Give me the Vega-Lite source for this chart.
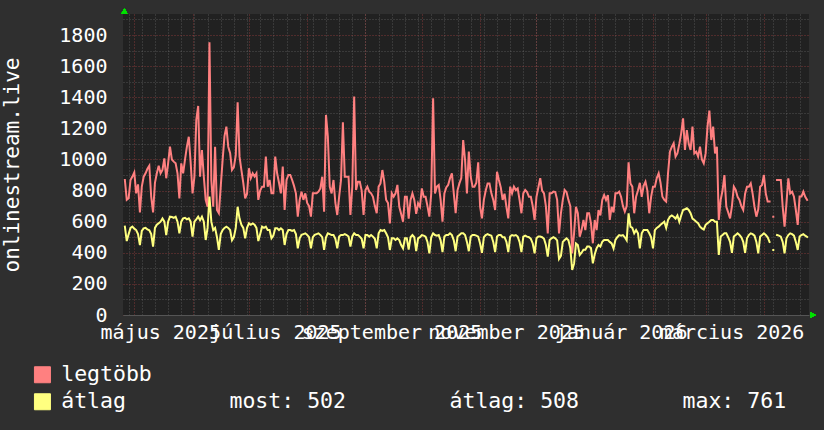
{
"$schema": "https://vega.github.io/schema/vega-lite/v6.json",
"width": 686, "height": 301,
"autosize": {"type": "none"},
"padding": {"left": 123, "top": 14, "right": 15, "bottom": 115},
"background": "#2f2f2f",
"config": {"view": {"fill": "#212121", "stroke": null}, "font": "DejaVu Sans Mono"},
"data": {"values": [
{"date":"2025-04-26","legtöbb":868,"átlag":568},{"date":"2025-04-27","legtöbb":740,"átlag":475},{"date":"2025-04-28","legtöbb":750,"átlag":520},{"date":"2025-04-29","legtöbb":868,"átlag":560},{"date":"2025-04-30","legtöbb":890,"átlag":568},
{"date":"2025-05-01","legtöbb":917,"átlag":555},{"date":"2025-05-02","legtöbb":782,"átlag":546},{"date":"2025-05-03","legtöbb":840,"átlag":520},{"date":"2025-05-04","legtöbb":660,"átlag":450},{"date":"2025-05-05","legtöbb":825,"átlag":540},{"date":"2025-05-06","legtöbb":889,"átlag":557},{"date":"2025-05-07","legtöbb":911,"átlag":560},{"date":"2025-05-08","legtöbb":940,"átlag":550},{"date":"2025-05-09","legtöbb":960,"átlag":545},{"date":"2025-05-10","legtöbb":760,"átlag":520},{"date":"2025-05-11","legtöbb":660,"átlag":440},{"date":"2025-05-12","legtöbb":850,"átlag":560},{"date":"2025-05-13","legtöbb":911,"átlag":580},{"date":"2025-05-14","legtöbb":960,"átlag":590},{"date":"2025-05-15","legtöbb":911,"átlag":600},{"date":"2025-05-16","legtöbb":932,"átlag":621},{"date":"2025-05-17","legtöbb":1007,"átlag":600},{"date":"2025-05-18","legtöbb":879,"átlag":514},{"date":"2025-05-19","legtöbb":975,"átlag":600},{"date":"2025-05-20","legtöbb":1082,"átlag":632},{"date":"2025-05-21","legtöbb":1000,"átlag":630},{"date":"2025-05-22","legtöbb":986,"átlag":625},{"date":"2025-05-23","legtöbb":975,"átlag":632},{"date":"2025-05-24","legtöbb":911,"átlag":600},{"date":"2025-05-25","legtöbb":750,"átlag":525},{"date":"2025-05-26","legtöbb":975,"átlag":600},{"date":"2025-05-27","legtöbb":911,"átlag":621},{"date":"2025-05-28","legtöbb":1000,"átlag":625},{"date":"2025-05-29","legtöbb":1082,"átlag":615},{"date":"2025-05-30","legtöbb":1146,"átlag":621},{"date":"2025-05-31","legtöbb":980,"átlag":600},
{"date":"2025-06-01","legtöbb":782,"átlag":504},{"date":"2025-06-02","legtöbb":889,"átlag":600},{"date":"2025-06-03","legtöbb":1254,"átlag":615},{"date":"2025-06-04","legtöbb":1344,"átlag":632},{"date":"2025-06-05","legtöbb":889,"átlag":610},{"date":"2025-06-06","legtöbb":1061,"átlag":632},{"date":"2025-06-07","legtöbb":889,"átlag":600},{"date":"2025-06-08","legtöbb":740,"átlag":482},{"date":"2025-06-09","legtöbb":696,"átlag":560},{"date":"2025-06-10","legtöbb":1753,"átlag":761},{"date":"2025-06-11","legtöbb":868,"átlag":600},{"date":"2025-06-12","legtöbb":696,"átlag":546},{"date":"2025-06-13","legtöbb":1082,"átlag":560},{"date":"2025-06-14","legtöbb":675,"átlag":500},{"date":"2025-06-15","legtöbb":654,"átlag":418},{"date":"2025-06-16","legtöbb":825,"átlag":520},{"date":"2025-06-17","legtöbb":996,"átlag":546},{"date":"2025-06-18","legtöbb":1150,"átlag":560},{"date":"2025-06-19","legtöbb":1211,"átlag":568},{"date":"2025-06-20","legtöbb":1082,"átlag":560},{"date":"2025-06-21","legtöbb":1040,"átlag":546},{"date":"2025-06-22","legtöbb":932,"átlag":480},{"date":"2025-06-23","legtöbb":950,"átlag":500},{"date":"2025-06-24","legtöbb":1028,"átlag":560},{"date":"2025-06-25","legtöbb":1367,"átlag":696},{"date":"2025-06-26","legtöbb":1018,"átlag":620},{"date":"2025-06-27","legtöbb":932,"átlag":580},{"date":"2025-06-28","legtöbb":850,"átlag":560},{"date":"2025-06-29","legtöbb":750,"átlag":493},{"date":"2025-06-30","legtöbb":780,"átlag":560},
{"date":"2025-07-01","legtöbb":943,"átlag":589},{"date":"2025-07-02","legtöbb":880,"átlag":580},{"date":"2025-07-03","legtöbb":911,"átlag":589},{"date":"2025-07-04","legtöbb":890,"átlag":580},{"date":"2025-07-05","legtöbb":911,"átlag":560},{"date":"2025-07-06","legtöbb":740,"átlag":475},{"date":"2025-07-07","legtöbb":800,"átlag":520},{"date":"2025-07-08","legtöbb":825,"átlag":568},{"date":"2025-07-09","legtöbb":825,"átlag":560},{"date":"2025-07-10","legtöbb":1018,"átlag":568},{"date":"2025-07-11","legtöbb":825,"átlag":546},{"date":"2025-07-12","legtöbb":868,"átlag":546},{"date":"2025-07-13","legtöbb":782,"átlag":493},{"date":"2025-07-14","legtöbb":782,"átlag":510},{"date":"2025-07-15","legtöbb":1018,"átlag":557},{"date":"2025-07-16","legtöbb":911,"átlag":557},{"date":"2025-07-17","legtöbb":850,"átlag":546},{"date":"2025-07-18","legtöbb":782,"átlag":557},{"date":"2025-07-19","legtöbb":954,"átlag":546},{"date":"2025-07-20","legtöbb":675,"átlag":450},{"date":"2025-07-21","legtöbb":868,"átlag":520},{"date":"2025-07-22","legtöbb":900,"átlag":546},{"date":"2025-07-23","legtöbb":900,"átlag":546},{"date":"2025-07-24","legtöbb":868,"átlag":540},{"date":"2025-07-25","legtöbb":830,"átlag":546},{"date":"2025-07-26","legtöbb":782,"átlag":520},{"date":"2025-07-27","legtöbb":632,"átlag":428},{"date":"2025-07-28","legtöbb":740,"átlag":493},{"date":"2025-07-29","legtöbb":793,"átlag":515},{"date":"2025-07-30","legtöbb":740,"átlag":520},{"date":"2025-07-31","legtöbb":782,"átlag":525},
{"date":"2025-08-01","legtöbb":720,"átlag":515},{"date":"2025-08-02","legtöbb":700,"átlag":500},{"date":"2025-08-03","legtöbb":632,"átlag":428},{"date":"2025-08-04","legtöbb":782,"átlag":500},{"date":"2025-08-05","legtöbb":782,"átlag":515},{"date":"2025-08-06","legtöbb":782,"átlag":520},{"date":"2025-08-07","legtöbb":793,"átlag":525},{"date":"2025-08-08","legtöbb":814,"átlag":515},{"date":"2025-08-09","legtöbb":889,"átlag":500},{"date":"2025-08-10","legtöbb":664,"átlag":418},{"date":"2025-08-11","legtöbb":1286,"átlag":500},{"date":"2025-08-12","legtöbb":1146,"átlag":525},{"date":"2025-08-13","legtöbb":825,"átlag":520},{"date":"2025-08-14","legtöbb":782,"átlag":514},{"date":"2025-08-15","legtöbb":868,"átlag":514},{"date":"2025-08-16","legtöbb":720,"átlag":490},{"date":"2025-08-17","legtöbb":643,"átlag":428},{"date":"2025-08-18","legtöbb":760,"átlag":505},{"date":"2025-08-19","legtöbb":868,"átlag":514},{"date":"2025-08-20","legtöbb":1239,"átlag":514},{"date":"2025-08-21","legtöbb":889,"átlag":520},{"date":"2025-08-22","legtöbb":889,"átlag":514},{"date":"2025-08-23","legtöbb":889,"átlag":505},{"date":"2025-08-24","legtöbb":643,"átlag":440},{"date":"2025-08-25","legtöbb":825,"átlag":505},{"date":"2025-08-26","legtöbb":1404,"átlag":525},{"date":"2025-08-27","legtöbb":804,"átlag":514},{"date":"2025-08-28","legtöbb":857,"átlag":514},{"date":"2025-08-29","legtöbb":857,"átlag":504},{"date":"2025-08-30","legtöbb":800,"átlag":490},{"date":"2025-08-31","legtöbb":643,"átlag":428},
{"date":"2025-09-01","legtöbb":804,"átlag":514},{"date":"2025-09-02","legtöbb":825,"átlag":514},{"date":"2025-09-03","legtöbb":793,"átlag":504},{"date":"2025-09-04","legtöbb":782,"átlag":514},{"date":"2025-09-05","legtöbb":760,"átlag":504},{"date":"2025-09-06","legtöbb":700,"átlag":490},{"date":"2025-09-07","legtöbb":654,"átlag":428},{"date":"2025-09-08","legtöbb":825,"átlag":525},{"date":"2025-09-09","legtöbb":846,"átlag":546},{"date":"2025-09-10","legtöbb":932,"átlag":540},{"date":"2025-09-11","legtöbb":857,"átlag":546},{"date":"2025-09-12","legtöbb":740,"átlag":525},{"date":"2025-09-13","legtöbb":720,"átlag":500},{"date":"2025-09-14","legtöbb":589,"átlag":418},{"date":"2025-09-15","legtöbb":782,"átlag":493},{"date":"2025-09-16","legtöbb":760,"átlag":493},{"date":"2025-09-17","legtöbb":782,"átlag":482},{"date":"2025-09-18","legtöbb":836,"átlag":493},{"date":"2025-09-19","legtöbb":696,"átlag":482},{"date":"2025-09-20","legtöbb":650,"átlag":450},{"date":"2025-09-21","legtöbb":600,"átlag":428},{"date":"2025-09-22","legtöbb":760,"átlag":493},{"date":"2025-09-23","legtöbb":760,"átlag":493},{"date":"2025-09-24","legtöbb":620,"átlag":420},{"date":"2025-09-25","legtöbb":740,"átlag":500},{"date":"2025-09-26","legtöbb":782,"átlag":514},{"date":"2025-09-27","legtöbb":740,"átlag":500},{"date":"2025-09-28","legtöbb":650,"átlag":410},{"date":"2025-09-29","legtöbb":718,"átlag":493},{"date":"2025-09-30","legtöbb":696,"átlag":500},
{"date":"2025-10-01","legtöbb":814,"átlag":514},{"date":"2025-10-02","legtöbb":760,"átlag":510},{"date":"2025-10-03","legtöbb":760,"átlag":504},{"date":"2025-10-04","legtöbb":700,"átlag":470},{"date":"2025-10-05","legtöbb":632,"átlag":396},{"date":"2025-10-06","legtöbb":782,"átlag":500},{"date":"2025-10-07","legtöbb":1393,"átlag":525},{"date":"2025-10-08","legtöbb":782,"átlag":514},{"date":"2025-10-09","legtöbb":825,"átlag":510},{"date":"2025-10-10","legtöbb":836,"átlag":514},{"date":"2025-10-11","legtöbb":740,"átlag":480},{"date":"2025-10-12","legtöbb":600,"átlag":404},{"date":"2025-10-13","legtöbb":782,"átlag":504},{"date":"2025-10-14","legtöbb":820,"átlag":514},{"date":"2025-10-15","legtöbb":836,"átlag":514},{"date":"2025-10-16","legtöbb":880,"átlag":525},{"date":"2025-10-17","legtöbb":911,"átlag":514},{"date":"2025-10-18","legtöbb":782,"átlag":480},{"date":"2025-10-19","legtöbb":654,"átlag":410},{"date":"2025-10-20","legtöbb":803,"átlag":504},{"date":"2025-10-21","legtöbb":846,"átlag":514},{"date":"2025-10-22","legtöbb":880,"átlag":525},{"date":"2025-10-23","legtöbb":1125,"átlag":525},{"date":"2025-10-24","legtöbb":996,"átlag":514},{"date":"2025-10-25","legtöbb":782,"átlag":470},{"date":"2025-10-26","legtöbb":1050,"átlag":410},{"date":"2025-10-27","legtöbb":889,"átlag":504},{"date":"2025-10-28","legtöbb":825,"átlag":514},{"date":"2025-10-29","legtöbb":825,"átlag":514},{"date":"2025-10-30","legtöbb":850,"átlag":510},{"date":"2025-10-31","legtöbb":981,"átlag":504},
{"date":"2025-11-01","legtöbb":696,"átlag":460},{"date":"2025-11-02","legtöbb":621,"átlag":400},{"date":"2025-11-03","legtöbb":740,"átlag":500},{"date":"2025-11-04","legtöbb":800,"átlag":514},{"date":"2025-11-05","legtöbb":846,"átlag":520},{"date":"2025-11-06","legtöbb":846,"átlag":514},{"date":"2025-11-07","legtöbb":782,"átlag":510},{"date":"2025-11-08","legtöbb":740,"átlag":470},{"date":"2025-11-09","legtöbb":675,"átlag":404},{"date":"2025-11-10","legtöbb":921,"átlag":504},{"date":"2025-11-11","legtöbb":868,"átlag":514},{"date":"2025-11-12","legtöbb":820,"átlag":514},{"date":"2025-11-13","legtöbb":740,"átlag":500},{"date":"2025-11-14","legtöbb":780,"átlag":500},{"date":"2025-11-15","legtöbb":696,"átlag":470},{"date":"2025-11-16","legtöbb":621,"átlag":404},{"date":"2025-11-17","legtöbb":825,"átlag":504},{"date":"2025-11-18","legtöbb":782,"átlag":514},{"date":"2025-11-19","legtöbb":825,"átlag":510},{"date":"2025-11-20","legtöbb":803,"átlag":514},{"date":"2025-11-21","legtöbb":814,"átlag":504},{"date":"2025-11-22","legtöbb":740,"átlag":470},{"date":"2025-11-23","legtöbb":654,"átlag":404},{"date":"2025-11-24","legtöbb":782,"átlag":504},{"date":"2025-11-25","legtöbb":804,"átlag":510},{"date":"2025-11-26","legtöbb":790,"átlag":504},{"date":"2025-11-27","legtöbb":760,"átlag":500},{"date":"2025-11-28","legtöbb":760,"átlag":490},{"date":"2025-11-29","legtöbb":700,"átlag":460},{"date":"2025-11-30","legtöbb":611,"átlag":396},
{"date":"2025-12-01","legtöbb":760,"átlag":493},{"date":"2025-12-02","legtöbb":820,"átlag":504},{"date":"2025-12-03","legtöbb":879,"átlag":504},{"date":"2025-12-04","legtöbb":800,"átlag":500},{"date":"2025-12-05","legtöbb":782,"átlag":490},{"date":"2025-12-06","legtöbb":700,"átlag":450},{"date":"2025-12-07","legtöbb":525,"átlag":375},{"date":"2025-12-08","legtöbb":782,"átlag":482},{"date":"2025-12-09","legtöbb":782,"átlag":493},{"date":"2025-12-10","legtöbb":793,"átlag":500},{"date":"2025-12-11","legtöbb":790,"átlag":493},{"date":"2025-12-12","legtöbb":740,"átlag":480},{"date":"2025-12-13","legtöbb":525,"átlag":360},{"date":"2025-12-14","legtöbb":654,"átlag":380},{"date":"2025-12-15","legtöbb":740,"átlag":470},{"date":"2025-12-16","legtöbb":804,"átlag":482},{"date":"2025-12-17","legtöbb":790,"átlag":493},{"date":"2025-12-18","legtöbb":740,"átlag":480},{"date":"2025-12-19","legtöbb":700,"átlag":430},{"date":"2025-12-20","legtöbb":396,"átlag":290},{"date":"2025-12-21","legtöbb":525,"átlag":330},{"date":"2025-12-22","legtöbb":696,"átlag":460},{"date":"2025-12-23","legtöbb":654,"átlag":450},{"date":"2025-12-24","legtöbb":504,"átlag":386},{"date":"2025-12-25","legtöbb":546,"átlag":400},{"date":"2025-12-26","legtöbb":611,"átlag":420},{"date":"2025-12-27","legtöbb":546,"átlag":420},{"date":"2025-12-28","legtöbb":654,"átlag":440},{"date":"2025-12-29","legtöbb":654,"átlag":440},{"date":"2025-12-30","legtöbb":589,"átlag":430},{"date":"2025-12-31","legtöbb":461,"átlag":332},
{"date":"2026-01-01","legtöbb":611,"átlag":390},{"date":"2026-01-02","legtöbb":546,"átlag":430},{"date":"2026-01-03","legtöbb":675,"átlag":450},{"date":"2026-01-04","legtöbb":640,"átlag":440},{"date":"2026-01-05","legtöbb":740,"átlag":471},{"date":"2026-01-06","legtöbb":771,"átlag":482},{"date":"2026-01-07","legtöbb":740,"átlag":482},{"date":"2026-01-08","legtöbb":771,"átlag":482},{"date":"2026-01-09","legtöbb":611,"átlag":470},{"date":"2026-01-10","legtöbb":696,"átlag":460},{"date":"2026-01-11","legtöbb":660,"átlag":428},{"date":"2026-01-12","legtöbb":782,"átlag":482},{"date":"2026-01-13","legtöbb":782,"átlag":500},{"date":"2026-01-14","legtöbb":793,"átlag":514},{"date":"2026-01-15","legtöbb":760,"átlag":510},{"date":"2026-01-16","legtöbb":700,"átlag":514},{"date":"2026-01-17","legtöbb":664,"átlag":500},{"date":"2026-01-18","legtöbb":700,"átlag":480},{"date":"2026-01-19","legtöbb":981,"átlag":654},{"date":"2026-01-20","legtöbb":846,"átlag":568},{"date":"2026-01-21","legtöbb":825,"átlag":560},{"date":"2026-01-22","legtöbb":654,"átlag":525},{"date":"2026-01-23","legtöbb":760,"átlag":546},{"date":"2026-01-24","legtöbb":800,"átlag":525},{"date":"2026-01-25","legtöbb":850,"átlag":428},{"date":"2026-01-26","legtöbb":760,"átlag":525},{"date":"2026-01-27","legtöbb":830,"átlag":546},{"date":"2026-01-28","legtöbb":857,"átlag":546},{"date":"2026-01-29","legtöbb":800,"átlag":546},{"date":"2026-01-30","legtöbb":654,"átlag":525},{"date":"2026-01-31","legtöbb":760,"átlag":500},
{"date":"2026-02-01","legtöbb":825,"átlag":428},{"date":"2026-02-02","legtöbb":825,"átlag":546},{"date":"2026-02-03","legtöbb":880,"átlag":560},{"date":"2026-02-04","legtöbb":911,"átlag":568},{"date":"2026-02-05","legtöbb":850,"átlag":580},{"date":"2026-02-06","legtöbb":760,"átlag":590},{"date":"2026-02-07","legtöbb":740,"átlag":600},{"date":"2026-02-08","legtöbb":729,"átlag":560},{"date":"2026-02-09","legtöbb":911,"átlag":611},{"date":"2026-02-10","legtöbb":1050,"átlag":632},{"date":"2026-02-11","legtöbb":1080,"átlag":640},{"date":"2026-02-12","legtöbb":1104,"átlag":632},{"date":"2026-02-13","legtöbb":1018,"átlag":620},{"date":"2026-02-14","legtöbb":1040,"átlag":640},{"date":"2026-02-15","legtöbb":1100,"átlag":600},{"date":"2026-02-16","legtöbb":1168,"átlag":640},{"date":"2026-02-17","legtöbb":1264,"átlag":675},{"date":"2026-02-18","legtöbb":1061,"átlag":680},{"date":"2026-02-19","legtöbb":1189,"átlag":686},{"date":"2026-02-20","legtöbb":1100,"átlag":675},{"date":"2026-02-21","legtöbb":1061,"átlag":654},{"date":"2026-02-22","legtöbb":1211,"átlag":620},{"date":"2026-02-23","legtöbb":1039,"átlag":611},{"date":"2026-02-24","legtöbb":1050,"átlag":600},{"date":"2026-02-25","legtöbb":1018,"átlag":590},{"date":"2026-02-26","legtöbb":1082,"átlag":568},{"date":"2026-02-27","legtöbb":1000,"átlag":557},{"date":"2026-02-28","legtöbb":975,"átlag":550},
{"date":"2026-03-01","legtöbb":1039,"átlag":580},{"date":"2026-03-02","legtöbb":1211,"átlag":590},{"date":"2026-03-03","legtöbb":1314,"átlag":600},{"date":"2026-03-04","legtöbb":1125,"átlag":611},{"date":"2026-03-05","legtöbb":1211,"átlag":611},{"date":"2026-03-06","legtöbb":1039,"átlag":600},{"date":"2026-03-07","legtöbb":1082,"átlag":600},{"date":"2026-03-08","legtöbb":611,"átlag":386},{"date":"2026-03-09","legtöbb":740,"átlag":504},{"date":"2026-03-10","legtöbb":800,"átlag":514},{"date":"2026-03-11","legtöbb":900,"átlag":525},{"date":"2026-03-12","legtöbb":696,"átlag":525},{"date":"2026-03-13","legtöbb":660,"átlag":500},{"date":"2026-03-14","legtöbb":621,"átlag":470},{"date":"2026-03-15","legtöbb":700,"átlag":400},{"date":"2026-03-16","legtöbb":825,"átlag":504},{"date":"2026-03-17","legtöbb":804,"átlag":514},{"date":"2026-03-18","legtöbb":760,"átlag":525},{"date":"2026-03-19","legtöbb":740,"átlag":514},{"date":"2026-03-20","legtöbb":700,"átlag":500},{"date":"2026-03-21","legtöbb":675,"átlag":470},{"date":"2026-03-22","legtöbb":780,"átlag":400},{"date":"2026-03-23","legtöbb":825,"átlag":493},{"date":"2026-03-24","legtöbb":825,"átlag":514},{"date":"2026-03-25","legtöbb":846,"átlag":525},{"date":"2026-03-26","legtöbb":780,"átlag":520},{"date":"2026-03-27","legtöbb":696,"átlag":510},{"date":"2026-03-28","legtöbb":632,"átlag":470},{"date":"2026-03-29","legtöbb":680,"átlag":396},{"date":"2026-03-30","legtöbb":825,"átlag":504},{"date":"2026-03-31","legtöbb":836,"átlag":514},
{"date":"2026-04-01","legtöbb":900,"átlag":525},{"date":"2026-04-02","legtöbb":782,"átlag":514},{"date":"2026-04-03","legtöbb":729,"átlag":500},{"date":"2026-04-04","legtöbb":729,"átlag":470},{"date":"2026-04-05","legtöbb":null,"átlag":null},{"date":"2026-04-06","legtöbb":632,"átlag":418},{"date":"2026-04-07","legtöbb":null,"átlag":null},{"date":"2026-04-08","legtöbb":868,"átlag":514},{"date":"2026-04-09","legtöbb":868,"átlag":510},{"date":"2026-04-10","legtöbb":868,"átlag":504},{"date":"2026-04-11","legtöbb":696,"átlag":470},{"date":"2026-04-12","legtöbb":568,"átlag":396},{"date":"2026-04-13","legtöbb":718,"átlag":493},{"date":"2026-04-14","legtöbb":879,"átlag":514},{"date":"2026-04-15","legtöbb":782,"átlag":525},{"date":"2026-04-16","legtöbb":793,"átlag":520},{"date":"2026-04-17","legtöbb":760,"átlag":510},{"date":"2026-04-18","legtöbb":675,"átlag":470},{"date":"2026-04-19","legtöbb":579,"átlag":418},{"date":"2026-04-20","legtöbb":761,"átlag":504},{"date":"2026-04-21","legtöbb":761,"átlag":514},{"date":"2026-04-22","legtöbb":793,"átlag":520},{"date":"2026-04-23","legtöbb":760,"átlag":510},{"date":"2026-04-24","legtöbb":740,"átlag":502}
]},
"layer": [
{
"transform": [{"fold": ["legtöbb", "átlag"], "as": ["sor", "ertek"]}],
"mark": {"type": "line", "strokeWidth": 2, "strokeCap": "square", "clip": true, "invalid": "break-paths-filter-domains"},
"encoding": {
"x": {"field": "date", "type": "temporal",
"scale": {"type": "utc", "domain": [{"year": 2025, "month": 4, "date": 25, "utc": true}, {"year": 2026, "month": 4, "date": 25, "utc": true}]},
"axis": {"orient": "bottom", "title": null, "labels": false, "ticks": false, "domain": false, "grid": true, "gridColor": "#8f8f8f", "gridOpacity": 0.45, "gridDash": [1, 2], "gridWidth": 1,
"values": [1745798400000,1746403200000,1747008000000,1747612800000,1748217600000,1748822400000,1749427200000,1750032000000,1750636800000,1751241600000,1751846400000,1752451200000,1753056000000,1753660800000,1754265600000,1754870400000,1755475200000,1756080000000,1756684800000,1757289600000,1757894400000,1758499200000,1759104000000,1759708800000,1760313600000,1760918400000,1761523200000,1762128000000,1762732800000,1763337600000,1763942400000,1764547200000,1765152000000,1765756800000,1766361600000,1766966400000,1767571200000,1768176000000,1768780800000,1769385600000,1769990400000,1770595200000,1771200000000,1771804800000,1772409600000,1773014400000,1773619200000,1774224000000,1774828800000,1775433600000,1776038400000,1776643200000]}},
"y": {"field": "ertek", "type": "quantitative",
"scale": {"domain": [0, 1935], "nice": false, "zero": true},
"axis": {"orient": "left", "title": null, "labels": false, "ticks": false, "domain": false, "grid": true, "gridColor": "#8f8f8f", "gridOpacity": 0.45, "gridDash": [1, 2], "gridWidth": 1,
"values": [100, 300, 500, 700, 900, 1100, 1300, 1500, 1700, 1900]}},
"color": {"field": "sor", "type": "nominal",
"scale": {"domain": ["legtöbb", "átlag"], "range": ["#ff8080", "#ffff80"]},
"legend": {"orient": "none", "legendX": -91.3, "legendY": 350, "direction": "vertical", "title": null, "padding": 0,
"labelFont": "DejaVu Sans Mono", "labelFontSize": 21.5, "labelColor": "#ffffff", "labelLimit": 1000, "labelOffset": 8,
"symbolType": "M-1,-1H1V1H-1Z", "symbolSize": 256, "symbolStrokeWidth": 1, "rowPadding": 4,
"labelExpr": "datum.label == 'átlag' ? 'átlag\u00a0\u00a0\u00a0\u00a0\u00a0\u00a0\u00a0\u00a0most: 502\u00a0\u00a0\u00a0\u00a0\u00a0\u00a0\u00a0\u00a0átlag: 508\u00a0\u00a0\u00a0\u00a0\u00a0\u00a0\u00a0\u00a0max: 761' : datum.label",
"encode": {"symbols": {"update": {"fill": {"scale": "color", "field": "value"}, "fillOpacity": {"value": 1}, "stroke": {"value": "#000000"}, "strokeWidth": {"value": 1}}}}}}
}
},
{
"mark": {"type": "point", "shape": "triangle-up", "filled": true, "color": "#00e000", "opacity": 1, "size": 30, "xOffset": 1.5, "yOffset": -3},
"encoding": {
"x": {"datum": {"year": 2025, "month": 4, "date": 25, "utc": true}, "type": "temporal",
"scale": {"type": "utc", "domain": [{"year": 2025, "month": 4, "date": 25, "utc": true}, {"year": 2026, "month": 4, "date": 25, "utc": true}]},
"axis": {"orient": "bottom", "title": null, "grid": true, "gridColor": "#e05050", "gridOpacity": 0.5, "gridDash": [1, 2], "gridWidth": 1,
"ticks": false, "tickSize": 0, "domain": true, "domainColor": "#555555", "domainWidth": 1,
"values": [{"year": 2025, "month": 5, "date": 1, "utc": true}, {"year": 2025, "month": 6, "date": 1, "utc": true}, {"year": 2025, "month": 7, "date": 1, "utc": true}, {"year": 2025, "month": 8, "date": 1, "utc": true}, {"year": 2025, "month": 9, "date": 1, "utc": true}, {"year": 2025, "month": 10, "date": 1, "utc": true}, {"year": 2025, "month": 11, "date": 1, "utc": true}, {"year": 2025, "month": 12, "date": 1, "utc": true}, {"year": 2026, "month": 1, "date": 1, "utc": true}, {"year": 2026, "month": 2, "date": 1, "utc": true}, {"year": 2026, "month": 3, "date": 1, "utc": true}, {"year": 2026, "month": 4, "date": 1, "utc": true}],
"labelExpr": "utcmonth(datum.value) % 2 == 0 ? ['január','február','március','április','május','június','július','augusztus','szeptember','október','november','december'][utcmonth(datum.value)] + ' ' + utcyear(datum.value) : ''",
"labelFont": "DejaVu Sans Mono", "labelFontSize": 20, "labelColor": "#ffffff", "labelAlign": "center", "labelBaseline": "alphabetic",
"labelOffset": 26, "labelPadding": 23, "labelOverlap": false, "labelFlush": false, "labelBound": false, "labelLimit": 0}},
"y": {"datum": 1935, "type": "quantitative",
"scale": {"domain": [0, 1935], "nice": false, "zero": true},
"axis": {"orient": "left", "grid": true, "gridColor": "#e05050", "gridOpacity": 0.5, "gridDash": [1, 2], "gridWidth": 1,
"ticks": false, "tickSize": 0, "domain": false, "format": "d",
"values": [0, 200, 400, 600, 800, 1000, 1200, 1400, 1600, 1800],
"labelFont": "DejaVu Sans Mono", "labelFontSize": 20, "labelColor": "#ffffff", "labelPadding": 16, "labelBaseline": "middle",
"title": "onlinestream.live", "titleFont": "DejaVu Sans Mono", "titleFontSize": 21, "titleFontWeight": "normal", "titleColor": "#ffffff",
"titleAngle": -90, "titleX": -111, "titleY": 150.5, "titleAlign": "center", "titleBaseline": "middle"}}
}
},
{
"mark": {"type": "point", "shape": "triangle-right", "filled": true, "color": "#00e000", "opacity": 1, "size": 30, "xOffset": 4},
"encoding": {
"x": {"datum": {"year": 2026, "month": 4, "date": 25, "utc": true}, "type": "temporal", "axis": null,
"scale": {"type": "utc", "domain": [{"year": 2025, "month": 4, "date": 25, "utc": true}, {"year": 2026, "month": 4, "date": 25, "utc": true}]}},
"y": {"datum": 0, "type": "quantitative", "axis": null, "scale": {"domain": [0, 1935], "nice": false, "zero": true}}
}
}
],
"resolve": {"axis": {"x": "independent", "y": "independent"}}
}
